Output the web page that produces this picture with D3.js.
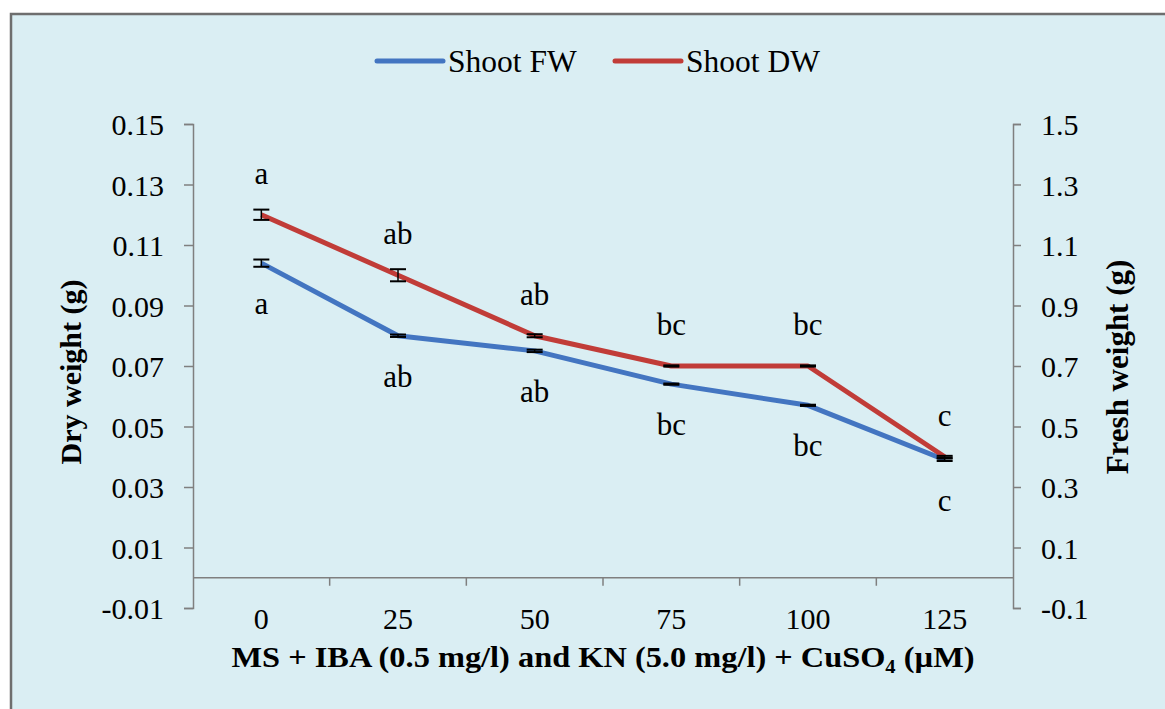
<!DOCTYPE html>
<html>
<head>
<meta charset="utf-8">
<script src="https://cdn.jsdelivr.net/npm/d3@7"></script>
<style>
  body { margin: 0; background: #fff; }
  svg { display: block; font-family: "Liberation Serif", "Times New Roman", serif; }
</style>
</head>
<body>
<svg id="chart" width="1165" height="709"></svg>
<script>
var categories = ["0", "25", "50", "75", "100", "125"];
var fwValues = [1.04, 0.80, 0.75, 0.64, 0.57, 0.39];   // shoot fresh weight, right axis
var fwErrors = [0.012, 0.004, 0.004, 0.002, 0.002, 0.004];
var dwValues = [0.120, 0.100, 0.080, 0.070, 0.070, 0.040]; // shoot dry weight, left axis
var dwErrors = [0.0017, 0.002, 0.0005, 0.0002, 0.0002, 0.0003];
var fwLetters = ["a", "ab", "ab", "bc", "bc", "c"];
var dwLetters = ["a", "ab", "ab", "bc", "bc", "c"];
var leftTicks = [-0.01, 0.01, 0.03, 0.05, 0.07, 0.09, 0.11, 0.13, 0.15];
var rightTicks = [-0.1, 0.1, 0.3, 0.5, 0.7, 0.9, 1.1, 1.3, 1.5];

var blue = "#4375c1", red = "#c13c38", axisGray = "#7f7f7f", ink = "#000";

var svg = d3.select("#chart");

// frame
svg.append("rect")
    .attr("x", 11).attr("y", 14)
    .attr("width", 1170).attr("height", 710)
    .attr("fill", "#daeef3")
    .attr("stroke", "#6e6e6e")
    .attr("stroke-width", 2.5);

var x = d3.scaleBand().domain(categories).range([193, 1013]);
var yL = d3.scaleLinear().domain([-0.01, 0.15]).range([608, 124]);
var yR = d3.scaleLinear().domain([-0.1, 1.5]).range([608, 124]);

// left axis
var gL = svg.append("g").attr("transform", "translate(193,0)")
    .call(d3.axisLeft(yL).tickValues(leftTicks).tickSize(9).tickPadding(20)
        .tickFormat(function (d) { return d.toFixed(2); }));

// right axis
var gR = svg.append("g").attr("transform", "translate(1013,0)")
    .call(d3.axisRight(yR).tickValues(rightTicks).tickSize(8).tickPadding(20)
        .tickFormat(function (d) { return d.toFixed(1); }));

[gL, gR].forEach(function (g) {
    g.select(".domain").attr("stroke", axisGray).attr("stroke-width", 1.5);
    g.selectAll(".tick line").attr("stroke", axisGray).attr("stroke-width", 1.5);
    g.selectAll(".tick text").attr("font-size", 30).attr("fill", ink)
        .attr("font-family", "Liberation Serif").attr("dy", "0.35em");
});

// category axis sits at zero
var gX = svg.append("g").attr("transform", "translate(0," + yL(0) + ")");
gX.append("line")
    .attr("x1", x.range()[0]).attr("x2", x.range()[1])
    .attr("stroke", axisGray).attr("stroke-width", 1.5);
gX.selectAll(".xt")
    .data(categories.slice(1))
    .enter().append("line")
    .attr("x1", function (d) { return x(d); })
    .attr("x2", function (d) { return x(d); })
    .attr("y1", 0).attr("y2", 8)
    .attr("stroke", axisGray).attr("stroke-width", 1.5);

svg.selectAll(".xlabel")
    .data(categories)
    .enter().append("text")
    .attr("x", function (d) { return x(d) + x.bandwidth() / 2; })
    .attr("y", 629)
    .attr("text-anchor", "middle")
    .attr("font-size", 30)
    .attr("fill", ink)
    .text(function (d) { return d; });

// axis titles
var xt = svg.append("text")
    .attr("x", 603).attr("y", 667)
    .attr("text-anchor", "middle")
    .attr("font-size", 30)
    .attr("font-weight", "bold")
    .attr("fill", ink)
    .attr("textLength", 743)
    .attr("lengthAdjust", "spacingAndGlyphs");
xt.append("tspan").text("MS + IBA (0.5 mg/l) and KN (5.0 mg/l) + CuSO");
xt.append("tspan").attr("font-size", 19).attr("dy", 6).text("4");
xt.append("tspan").attr("dy", -6).text(" (\u00b5M)");

svg.append("text")
    .attr("transform", "translate(81,372) rotate(-90)")
    .attr("text-anchor", "middle")
    .attr("font-size", 30)
    .attr("font-weight", "bold")
    .attr("fill", ink)
    .text("Dry weight (g)");

svg.append("text")
    .attr("transform", "translate(1128,367) rotate(-90)")
    .attr("text-anchor", "middle")
    .attr("font-size", 31)
    .attr("font-weight", "bold")
    .attr("fill", ink)
    .text("Fresh weight (g)");

function cx(i) { return x(categories[i]) + x.bandwidth() / 2; }

var series = [
    { name: "Shoot FW", values: fwValues, errors: fwErrors, letters: fwLetters, y: yR, color: blue, labelDy: 51 },
    { name: "Shoot DW", values: dwValues, errors: dwErrors, letters: dwLetters, y: yL, color: red, labelDy: -31 }
];

series.forEach(function (s) {
    var line = d3.line()
        .x(function (d, i) { return cx(i); })
        .y(function (d) { return s.y(d); });

    svg.append("path")
        .datum(s.values)
        .attr("d", line)
        .attr("fill", "none")
        .attr("stroke", s.color)
        .attr("stroke-width", 5)
        .attr("stroke-linejoin", "round");
});

series.forEach(function (s) {
    var eb = svg.append("g").selectAll("g")
        .data(s.values)
        .enter().append("g");
    eb.append("line")
        .attr("x1", function (d, i) { return cx(i); })
        .attr("x2", function (d, i) { return cx(i); })
        .attr("y1", function (d, i) { return s.y(d + s.errors[i]); })
        .attr("y2", function (d, i) { return s.y(d - s.errors[i]); })
        .attr("stroke", ink).attr("stroke-width", 1.5);
    [1, -1].forEach(function (sign) {
        eb.append("line")
            .attr("x1", function (d, i) { return cx(i) - 8; })
            .attr("x2", function (d, i) { return cx(i) + 8; })
            .attr("y1", function (d, i) { return s.y(d + sign * s.errors[i]); })
            .attr("y2", function (d, i) { return s.y(d + sign * s.errors[i]); })
            .attr("stroke", ink).attr("stroke-width", 2);
    });

    svg.append("g").selectAll("text")
        .data(s.letters)
        .enter().append("text")
        .attr("x", function (d, i) { return cx(i); })
        .attr("y", function (d, i) { return s.y(s.values[i]) + s.labelDy; })
        .attr("text-anchor", "middle")
        .attr("font-size", 31)
        .attr("fill", ink)
        .text(function (d) { return d; });
});

// legend
var legend = svg.append("g");
var legendX = [377, 615];
series.forEach(function (s, i) {
    legend.append("line")
        .attr("x1", legendX[i]).attr("x2", legendX[i] + 66)
        .attr("y1", 61).attr("y2", 61)
        .attr("stroke", s.color).attr("stroke-width", 5)
        .attr("stroke-linecap", "round");
    legend.append("text")
        .attr("x", legendX[i] + 71).attr("y", 72)
        .attr("font-size", 31.5)
        .attr("fill", ink)
        .text(s.name);
});
</script>
</body>
</html>
